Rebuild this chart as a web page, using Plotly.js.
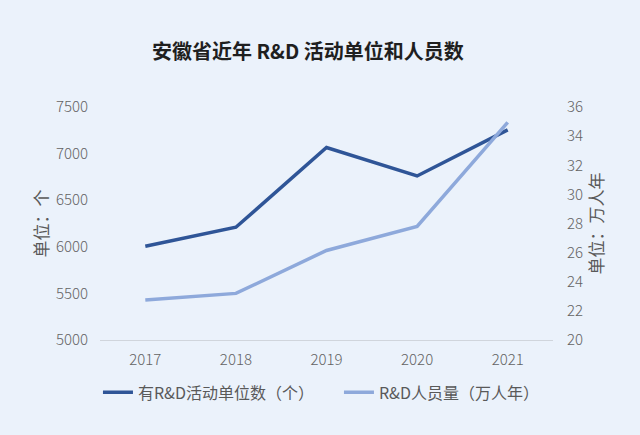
<!DOCTYPE html>
<html>
<head>
<meta charset="utf-8">
<script src="https://cdn.plot.ly/plotly-3.0.1.min.js"></script>
<style>html,body{margin:0;padding:0;background:#EBF2FB;}#chart{width:640px;height:435px;}</style>
</head>
<body>
<div id="chart"></div>
<script>
const years = ['2017', '2018', '2019', '2020', '2021'];
const units = [6005, 6210, 7065, 6760, 7255];
const personnel = [22.75, 23.2, 26.15, 27.8, 34.95];
const unitsName = '有R&D活动单位数（个）';
const personnelName = 'R&D人员量（万人年）';

const FONT = '"Noto Sans CJK SC", "Noto Sans", sans-serif';
const TICKFONT = {family: FONT, size: 15, color: '#636363', weight: 300};
const data = [
  {x: years, y: units, name: unitsName, type: 'scatter', mode: 'lines',
   line: {color: '#2F5597', width: 3.5}, yaxis: 'y'},
  {x: years, y: personnel, name: personnelName, type: 'scatter', mode: 'lines',
   line: {color: '#8EA9DB', width: 3.5}, yaxis: 'y2'}
];
const layout = {
  width: 640, height: 435,
  paper_bgcolor: '#EBF2FB', plot_bgcolor: '#EBF2FB',
  margin: {l: 100, r: 87, t: 107, b: 95},
  font: {family: FONT, color: '#595959', size: 15},
  title: {text: '安徽省近年 R&D 活动单位和人员数', x: 0.481, xanchor: 'center', y: 0.881, yanchor: 'middle',
          font: {family: FONT, size: 20, color: '#1F1F1F', weight: 'bold'}},
  showlegend: true,
  legend: {orientation: 'h', x: -0.0045, xanchor: 'left', y: -0.225, yanchor: 'middle',
           bgcolor: 'rgba(0,0,0,0)', font: {size: 16, color: '#595959'}, itemwidth: 30,
           entrywidth: 196, entrywidthmode: 'pixels'},
  xaxis: {type: 'category', range: [-0.5, 4.5], showgrid: false, zeroline: false,
          showline: true, linecolor: '#D0D5DC', linewidth: 1, ticks: '', ticklabelstandoff: 6,
          tickfont: TICKFONT},
  yaxis: {range: [5000, 7500], dtick: 500, showgrid: false, zeroline: false, showline: false,
          ticks: '', tickfont: TICKFONT, ticklabelstandoff: 11,
          title: {text: '单位：个', font: {size: 17, color: '#595959'}, standoff: 2}},
  yaxis2: {range: [20, 36], dtick: 2, overlaying: 'y', side: 'right', showgrid: false,
           zeroline: false, showline: false, ticks: '', tickfont: TICKFONT,
           ticklabelstandoff: 13,
           title: {text: '单位：万人年', font: {size: 17, color: '#595959'}, standoff: 9}}
};
Plotly.newPlot('chart', data, layout, {displayModeBar: false, staticPlot: true});
</script>
</body>
</html>
